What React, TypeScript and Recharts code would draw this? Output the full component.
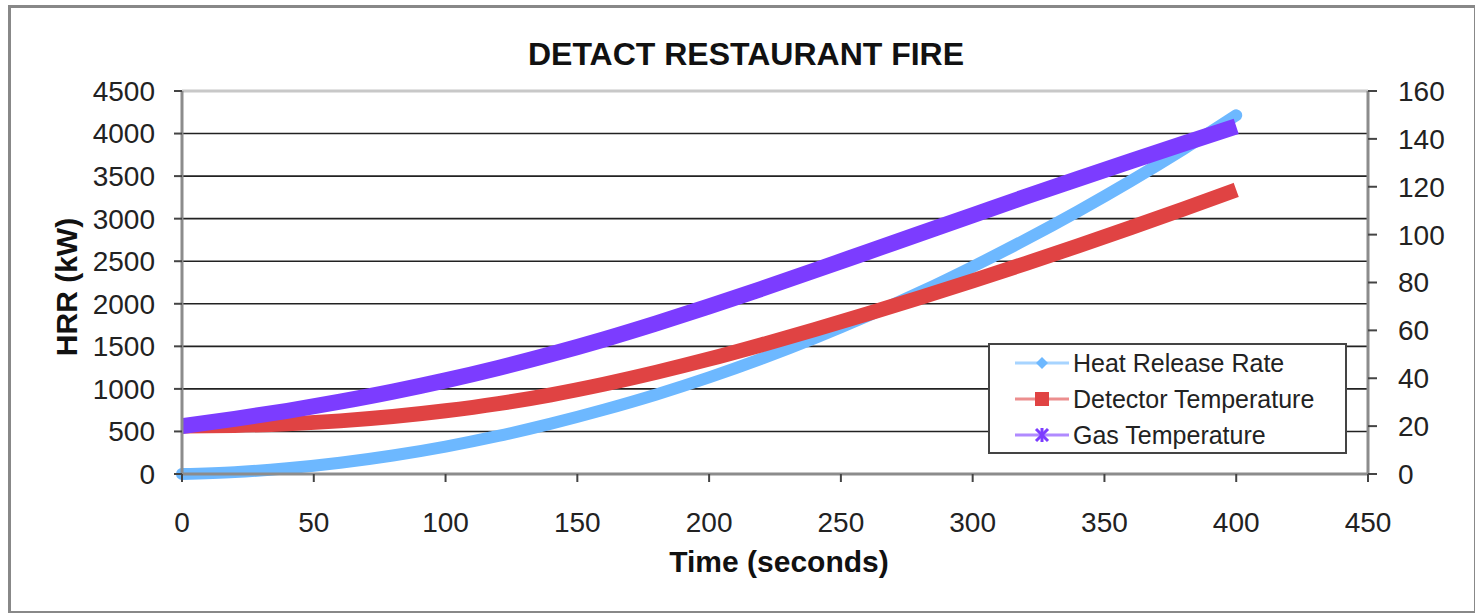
import React from "react";
import { CartesianGrid, Legend, Line, LineChart, ReferenceLine, XAxis, YAxis } from "recharts";

// time in seconds
const TIME = [0, 20, 40, 60, 80, 100, 120, 140, 160, 180, 200, 220, 240, 260, 280, 300, 320, 340, 360, 380, 400];
// heat release rate, kW (left axis)
const HRR = [0, 22, 67, 132, 217, 322, 447, 592, 755, 935, 1135, 1355, 1595, 1855, 2135, 2435, 2752, 3088, 3443, 3818, 4215];
// temperatures (right axis)
const DETECTOR_TEMP = [20, 20.3, 21, 22.2, 24, 26.4, 29.4, 33.1, 37.5, 42.5, 48, 54, 60.3, 66.9, 73.7, 80.7, 87.9, 95.3, 102.9, 110.7, 118.7];
const GAS_TEMP = [20, 23, 26.4, 30.2, 34.4, 39.1, 44.3, 50, 56.2, 62.9, 70, 77.4, 85, 92.7, 100.4, 108.1, 115.8, 123.3, 130.7, 138, 145.2];

const X_TICKS = [0, 50, 100, 150, 200, 250, 300, 350, 400, 450];
const HRR_TICKS = [0, 500, 1000, 1500, 2000, 2500, 3000, 3500, 4000, 4500];
const TEMP_TICKS = [0, 20, 40, 60, 80, 100, 120, 140, 160];

const SERIES = [
  { key: "hrr", name: "Heat Release Rate", color: "#6db8ff", axis: "left", width: 12, cap: "round" },
  { key: "detector", name: "Detector Temperature", color: "#e04343", axis: "right", width: 15, cap: "butt" },
  { key: "gas", name: "Gas Temperature", color: "#7c3cff", axis: "right", width: 16, cap: "butt" },
];

const data = TIME.map((t, i) => ({ t, hrr: HRR[i], detector: DETECTOR_TEMP[i], gas: GAS_TEMP[i] }));

const FONT = "'Liberation Sans', Arial, sans-serif";
const tickStyle = { fill: "#222", fontSize: 28, fontFamily: FONT };

function LegendIcon({ kind, color }: { kind: string; color: string }) {
  return (
    <svg width={54} height={20} style={{ display: "block" }}>
      <line x1={0} y1={10} x2={54} y2={10} stroke={color} strokeOpacity={0.6} strokeWidth={3} />
      {kind === "hrr" && <polygon points="27,4 33,10 27,16 21,10" fill={color} />}
      {kind === "detector" && <rect x={20} y={3} width={14} height={14} fill={color} />}
      {kind === "gas" && (
        <g stroke={color} strokeWidth={3}>
          <line x1={21} y1={4} x2={33} y2={16} />
          <line x1={33} y1={4} x2={21} y2={16} />
          <line x1={27} y1={3} x2={27} y2={17} />
        </g>
      )}
    </svg>
  );
}

function LegendBox() {
  return (
    <div
      style={{
        width: 355,
        height: 107,
        border: "2px solid #444",
        background: "#fff",
        boxSizing: "content-box",
      }}
    >
      {SERIES.map((s) => (
        <div key={s.key} style={{ display: "flex", alignItems: "center", height: 36, paddingLeft: 25 }}>
          <LegendIcon kind={s.key} color={s.color} />
          <span style={{ marginLeft: 4, fontFamily: FONT, fontSize: 25, color: "#222" }}>{s.name}</span>
        </div>
      ))}
    </div>
  );
}

export default function App() {
  return (
    <div style={{ position: "absolute", left: 0, top: 0, width: 1475, height: 613, background: "#fff" }}>
      <div
        style={{
          position: "absolute",
          left: 8,
          top: 5,
          width: 1463,
          height: 603,
          border: "3px solid #888",
        }}
      />
      <div
        style={{
          position: "absolute",
          left: 0,
          width: 1492,
          top: 36,
          textAlign: "center",
          fontFamily: FONT,
          fontWeight: "bold",
          fontSize: 32,
          color: "#111",
        }}
      >
        DETACT RESTAURANT FIRE
      </div>
      <div
        style={{
          position: "absolute",
          left: 67,
          top: 287,
          transform: "translate(-50%, -50%) rotate(-90deg)",
          fontFamily: FONT,
          fontWeight: "bold",
          fontSize: 30,
          color: "#111",
          whiteSpace: "nowrap",
        }}
      >
        HRR (kW)
      </div>
      <div
        style={{
          position: "absolute",
          left: 0,
          width: 1558,
          top: 545,
          textAlign: "center",
          fontFamily: FONT,
          fontWeight: "bold",
          fontSize: 30,
          color: "#111",
        }}
      >
        Time (seconds)
      </div>
      <div style={{ position: "absolute", left: 0, top: 0 }}>
        <LineChart width={1475} height={613} data={data} margin={{ top: 91, right: 27, bottom: 79, left: 82 }}>
          <CartesianGrid yAxisId="left" vertical={false} stroke="#222" strokeWidth={1.6} />
          <XAxis
            dataKey="t"
            type="number"
            domain={[0, 450]}
            ticks={X_TICKS}
            height={60}
            tick={tickStyle}
            tickSize={8}
            tickMargin={30}
            axisLine={{ stroke: "#8c8c8c", strokeWidth: 3 }}
            tickLine={{ stroke: "#444", strokeWidth: 2 }}
          />
          <YAxis
            yAxisId="left"
            domain={[0, 4500]}
            ticks={HRR_TICKS}
            width={100}
            tick={tickStyle}
            tickSize={8}
            tickMargin={19}
            axisLine={{ stroke: "#8c8c8c", strokeWidth: 3 }}
            tickLine={{ stroke: "#444", strokeWidth: 2 }}
          />
          <YAxis
            yAxisId="right"
            orientation="right"
            domain={[0, 160]}
            ticks={TEMP_TICKS}
            width={80}
            tick={tickStyle}
            tickSize={9}
            tickMargin={21}
            axisLine={{ stroke: "#8c8c8c", strokeWidth: 3 }}
            tickLine={{ stroke: "#444", strokeWidth: 2 }}
          />
          <ReferenceLine yAxisId="left" y={4500} stroke="#c8c8c8" strokeWidth={3} />
          {SERIES.map((s) => (
            <Line
              key={s.key}
              yAxisId={s.axis}
              dataKey={s.key}
              name={s.name}
              type="monotone"
              stroke={s.color}
              strokeWidth={s.width}
              strokeLinecap={s.cap as "round" | "butt"}
              dot={false}
              activeDot={false}
              isAnimationActive={false}
            />
          ))}
          <Legend
            layout="horizontal"
            verticalAlign="middle"
            align="center"
            content={() => <LegendBox />}
            wrapperStyle={{ left: 988, top: 343, width: 359, height: 111 }}
          />
        </LineChart>
      </div>
    </div>
  );
}
